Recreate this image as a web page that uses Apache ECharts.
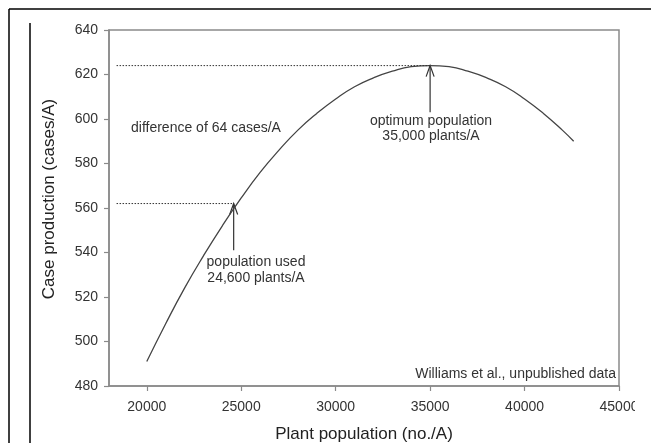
<!DOCTYPE html>
<html>
<head>
<meta charset="utf-8">
<script src="https://cdn.jsdelivr.net/npm/echarts@6/dist/echarts.min.js"></script>
<style>
html,body{margin:0;padding:0;background:#fff;}
#chart{width:651px;height:443px;}
</style>
</head>
<body>
<div id="chart"></div>
<script>
// Curve readings (plant population, case production)
const population = [20000,21000,22000,23000,24000,25000,26000,27000,28000,29000,30000,31000,32000,33000,34000,35000,36000,37000,38000,39000,40000,41000,42000,42600];
const production = [491,508,524,538.5,552,564.5,576,586,595,602.5,609,614.5,618.5,621.5,623.5,624,623.5,621.5,618.5,614.5,609,602.5,595,590];
// Reference lines (dotted)
const optimumLine = [[18400,624],[35000,624]];
const usedLine = [[18400,562],[24600,562]];
// Arrows: x, tail value, tip value
const arrows = [[35000,603,624],[24600,541,562]];
const xTicks = [20000,25000,30000,35000,40000,45000];
const yMin = 480, yMax = 640, yStep = 20;
const xMin = 18000, xMax = 45000;

const chart = echarts.init(document.getElementById('chart'));
const txt = '#333';
const font = 'Liberation Sans, Arial, sans-serif';
chart.setOption({
  animation:false,
  grid:{left:109,right:32,top:30,bottom:57,show:true,borderColor:'#8a8a8a',borderWidth:1.5,outerBoundsMode:'none',containLabel:false},
  xAxis:{type:'value',min:xMin,max:xMax,
    name:'Plant population (no./A)',nameLocation:'middle',nameGap:40,
    nameTextStyle:{fontFamily:font,fontSize:17,color:'#222'},
    axisLine:{show:true,lineStyle:{color:'#8a8a8a',width:1.5}},
    axisTick:{show:true,length:5,inside:false,customValues:xTicks,lineStyle:{color:'#8a8a8a',width:1.2}},
    axisLabel:{customValues:xTicks,formatter:v=>String(v),fontFamily:font,fontSize:14,color:txt,margin:14},
    splitLine:{show:false}},
  yAxis:{type:'value',min:yMin,max:yMax,interval:yStep,
    axisLine:{show:true,lineStyle:{color:'#8a8a8a',width:1.5}},
    axisTick:{show:true,length:5,lineStyle:{color:'#8a8a8a',width:1.2}},
    axisLabel:{fontFamily:font,fontSize:14,color:txt,margin:11},
    splitLine:{show:false}},
  series:[
    {type:'line',data:population.map((x,i)=>[x,production[i]]),smooth:0.5,showSymbol:false,
      lineStyle:{color:'#444',width:1.3}},
    {type:'line',data:optimumLine,showSymbol:false,lineStyle:{color:'#333',width:1,type:[1.5,1.5]}},
    {type:'line',data:usedLine,showSymbol:false,lineStyle:{color:'#333',width:1,type:[1.5,1.5]}},
    {type:'custom',data:arrows,renderItem:function(params,api){
      const tail = api.coord([api.value(0),api.value(1)]);
      const tip = api.coord([api.value(0),api.value(2)]);
      return {type:'group',children:[
        {type:'line',shape:{x1:tail[0],y1:tail[1],x2:tip[0],y2:tip[1]},style:{stroke:'#333',lineWidth:1.2}},
        {type:'polyline',shape:{points:[[tip[0]-4,tip[1]+11],[tip[0],tip[1]],[tip[0]+4,tip[1]+11]]},style:{stroke:'#333',lineWidth:1.2,fill:null}}
      ]};
    }}
  ],
  graphic:[
    {type:'rect',shape:{x:635,y:392,width:16,height:24},style:{fill:'#fff'},z:100},
    {type:'line',shape:{x1:9,y1:9,x2:651,y2:9},style:{stroke:'#000',lineWidth:1.5}},
    {type:'line',shape:{x1:9,y1:9,x2:9,y2:443},style:{stroke:'#000',lineWidth:1.5}},
    {type:'line',shape:{x1:30,y1:23,x2:30,y2:443},style:{stroke:'#000',lineWidth:1.5}},
    {type:'text',x:49,y:199,rotation:Math.PI/2,style:{text:'Case production (cases/A)',font:'17px '+font,fill:'#222',align:'center',verticalAlign:'middle'}},
    {type:'text',x:131,y:121,style:{text:'difference of 64 cases/A',font:'14px '+font,fill:txt}},
    {type:'text',x:431,y:114,style:{text:'optimum population\n35,000 plants/A',font:'14px '+font,fill:txt,align:'center',lineHeight:15}},
    {type:'text',x:256,y:254,style:{text:'population used\n24,600 plants/A',font:'14px '+font,fill:txt,align:'center',lineHeight:16}},
    {type:'text',x:616,y:367,style:{text:'Williams et al., unpublished data',font:'14px '+font,fill:txt,align:'right'}}
  ]
});
</script>
</body>
</html>
